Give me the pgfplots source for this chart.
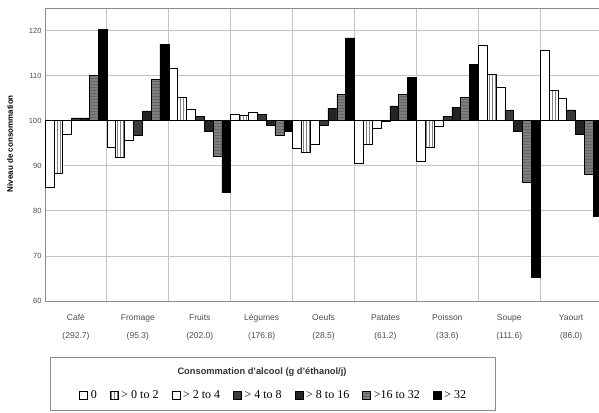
\documentclass[border=0pt]{standalone}
\usepackage{pgfplots}
\pgfplotsset{compat=1.18}
\usepackage{fontspec}
\setmainfont{Liberation Sans}
\newfontfamily\seriffont{Liberation Serif}
\usetikzlibrary{patterns}
\definecolor{gridc}{HTML}{C4C4C4}
\definecolor{axc}{HTML}{8C8C8C}
\definecolor{cfour}{HTML}{3A3A3A}
\definecolor{cfive}{HTML}{242424}
\definecolor{csix}{HTML}{7E7E7E}
\begin{document}
\begin{tikzpicture}
\begin{axis}[
  name=ax,
  scale only axis,
  width=554pt, height=293pt,
  xmin=-0.5, xmax=8.45,
  ymin=60, ymax=125,
  y coord trafo/.code={\pgfmathparse{#1-100}},
  y coord inv trafo/.code={\pgfmathparse{#1+100}},
  ytick={60,70,80,90,100,110,120},
  yticklabels={60,70,80,90,100,110,120},
  ymajorgrids,
  xtick={0,1,2,3,4,5,6,7,8},
  xticklabels={Café\\(292.7),Fromage\\(95.3),Fruits\\(202.0),Légumes\\(176.8),Oeufs\\(28.5),Patates\\(61.2),Poisson\\(33.6),Soupe\\(111.6),Yaourt\\(86.0)},
  minor xtick={-0.5,0.5,1.5,2.5,3.5,4.5,5.5,6.5,7.5},
  xminorgrids,
  grid style={gridc, line width=0.8pt},
  minor grid style={gridc, line width=0.8pt},
  major tick length=0pt, minor tick length=0pt,
  axis line style={axc, line width=0.8pt},
  xticklabel style={align=center, font=\fontsize{8.5}{18}\selectfont, text=black!70, yshift=-10pt},
  yticklabel style={font=\fontsize{7.5}{8}\selectfont, text=black!70},
  ylabel={Niveau de consommation},
  ylabel style={font=\bfseries\fontsize{8}{9}\selectfont, at={(axis description cs:-0.063,0.537)}, anchor=center},
  ybar=0pt,
  bar width=0.142857,
  legend columns=7,
  legend style={at={(axis description cs:0.413,-0.321)}, anchor=center, draw=none, fill=none,
    font=\seriffont\fontsize{12}{13}\selectfont,
    /tikz/every even column/.append style={column sep=11pt},
    /tikz/every odd column/.append style={column sep=1pt}},
  legend image code/.code={\draw[#1, line width=0.5pt] (0pt,-4pt) rectangle (8pt,4pt);},
  every axis plot/.append style={draw=black, line width=0.5pt},
]
\addplot[fill=white] coordinates {(0,85.2) (1,94.2) (2,111.6) (3,101.5) (4,93.9) (5,90.5) (6,91.1) (7,116.8) (8,115.7)};
\addplot[fill=white, postaction={pattern=vertical lines, pattern color=gray}] coordinates {(0,88.3) (1,92.0) (2,105.1) (3,101.3) (4,93.1) (5,94.8) (6,94.2) (7,110.2) (8,106.8)};
\addplot[fill=white] coordinates {(0,97.0) (1,95.6) (2,102.6) (3,101.9) (4,94.8) (5,98.4) (6,98.8) (7,107.4) (8,105.0)};
\addplot[fill=cfour] coordinates {(0,100.6) (1,96.8) (2,100.9) (3,101.4) (4,99.0) (5,99.8) (6,100.9) (7,102.4) (8,102.4)};
\addplot[fill=cfive] coordinates {(0,100.6) (1,102.2) (2,97.7) (3,98.9) (4,102.8) (5,103.3) (6,103.0) (7,97.6) (8,97.0)};
\addplot[fill=csix, postaction={pattern=horizontal lines, pattern color=black!60}] coordinates {(0,110.0) (1,109.2) (2,92.2) (3,96.8) (4,105.9) (5,105.9) (6,105.1) (7,86.3) (8,88.2)};
\addplot[fill=black] coordinates {(0,120.3) (1,117.0) (2,84.1) (3,97.6) (4,118.4) (5,109.6) (6,112.5) (7,65.3) (8,78.8)};
\legend{0,> 0 to 2,> 2 to 4,> 4 to 8,> 8 to 16,>16 to 32,> 32}
\end{axis}
\draw[axc, line width=1pt] (5pt,-56pt) rectangle (450pt,-109pt);
\node[font=\bfseries\fontsize{9.3}{10}\selectfont, text=black!80] at (217pt,-71pt) {Consommation d'alcool (g d'éthanol/j)};
\pgfresetboundingbox
\path (-45pt,-111pt) rectangle (554pt,301pt);
\end{tikzpicture}
\end{document}
